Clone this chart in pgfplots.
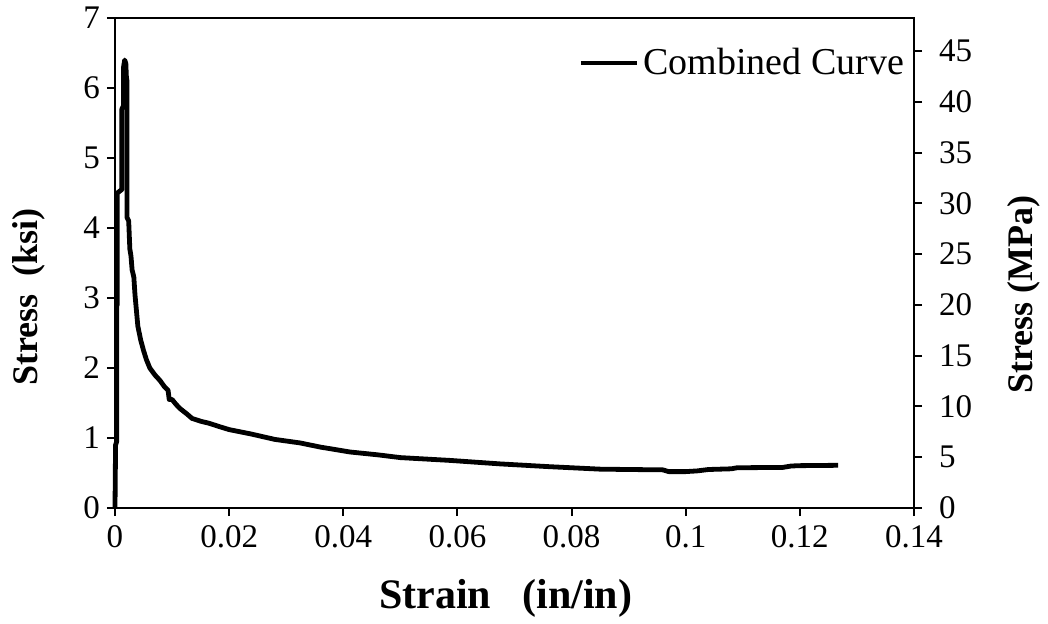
\documentclass[border=0pt]{standalone}
\usepackage{fontspec}
\setmainfont{Liberation Serif}
\usepackage{pgfplots}
\pgfplotsset{compat=1.18}
\begin{document}
\begin{tikzpicture}
\begin{axis}[
  at={(0,0)}, anchor=south west,
  scale only axis, width=399.5pt, height=245pt,
  xmin=0, xmax=0.14, ymin=0, ymax=7,
  xtick={0,0.02,0.04,0.06,0.08,0.1,0.12,0.14},
  ytick={0,1,...,7},
  xticklabels={0,0.02,0.04,0.06,0.08,0.1,0.12,0.14},
  xtick pos=bottom, ytick pos=left,
  tick align=outside, major tick length=4pt,
  tick style={line width=1pt, black},
  axis line style={line width=1pt},
  /pgf/number format/assume math mode=true,
  ticklabel style={font=\fontsize{16.5}{19}\selectfont},
  xticklabel style={yshift=-1pt},
  xlabel={\textbf{Strain\ \ \ (in/in)}},
  ylabel={\textbf{Stress\ \ (ksi)}},
  xlabel style={font=\fontsize{21}{25}\selectfont, at={(axis description cs:0.489,-0.184)}, anchor=center},
  ylabel style={font=\fontsize{18}{22}\selectfont, at={(axis description cs:-0.108,0.43)}, anchor=center, rotate=0},
  legend style={at={(axis description cs:0.993,0.908)}, anchor=east, draw=none, fill=none,
     font=\fontsize{19}{23}\selectfont, inner sep=0pt,
     /tikz/every odd column/.style={column sep=0pt}},
  legend image code/.code={\draw[line width=2.4pt] (0pt,0pt) -- (28pt,0pt);},
  clip=false,
]
\addplot[black, line width=2.4pt, line join=round] coordinates {
(0,0) (0.0001,0.9) (0.0003,0.95) (0.0003,2.9) (0.0004,2.9) (0.0004,4.5)
(0.0012,4.55) (0.0012,5.7) (0.0015,5.75) (0.0015,6.3) (0.0017,6.4)
(0.0019,6.35) (0.0020,6.15) (0.0021,6.1) (0.0021,4.15) (0.0024,4.1)
(0.0026,3.7) (0.0028,3.6) (0.0030,3.4) (0.0033,3.3) (0.0035,3.05)
(0.0040,2.6) (0.0045,2.4) (0.0050,2.25) (0.0055,2.12) (0.0061,2.0)
(0.0070,1.9) (0.0079,1.82) (0.0086,1.74) (0.0093,1.68) (0.0095,1.55)
(0.0100,1.55) (0.0107,1.48) (0.0114,1.42) (0.0125,1.35) (0.0135,1.28)
(0.0150,1.24) (0.0165,1.21) (0.0184,1.16) (0.0200,1.12) (0.0237,1.06)
(0.0280,0.98) (0.0324,0.93) (0.0360,0.87) (0.0412,0.80) (0.0460,0.76)
(0.0500,0.72) (0.0587,0.68) (0.0675,0.63) (0.0762,0.59) (0.0850,0.555)
(0.0900,0.55) (0.0960,0.545) (0.0970,0.52) (0.1000,0.52) (0.1020,0.53)
(0.1040,0.55) (0.1080,0.56) (0.1090,0.575) (0.1170,0.58) (0.1185,0.60)
(0.1200,0.605) (0.1267,0.61)
};
\addlegendentry{Combined Curve}
\end{axis}
\begin{axis}[
  at={(0,0)}, anchor=south west,
  scale only axis, width=399.5pt, height=245pt,
  xmin=0, xmax=0.14, ymin=0, ymax=48.2633,
  axis x line=none, axis y line*=right,
  ytick={0,5,...,45}, ytick pos=right,
  tick align=outside, major tick length=4pt,
  tick style={line width=1pt, black},
  axis line style={line width=1pt},
  /pgf/number format/assume math mode=true,
  ticklabel style={font=\fontsize{16.5}{19}\selectfont},
  yticklabel style={xshift=5pt},
  ylabel={\textbf{Stress\ (MPa)}},
  ylabel style={font=\fontsize{18}{22}\selectfont, at={(axis description cs:1.137,0.435)}, anchor=center, rotate=0},
]
\end{axis}
\path[use as bounding box] (-57.5pt,-55.5pt) rectangle (466.5pt,254pt);
\end{tikzpicture}
\end{document}
